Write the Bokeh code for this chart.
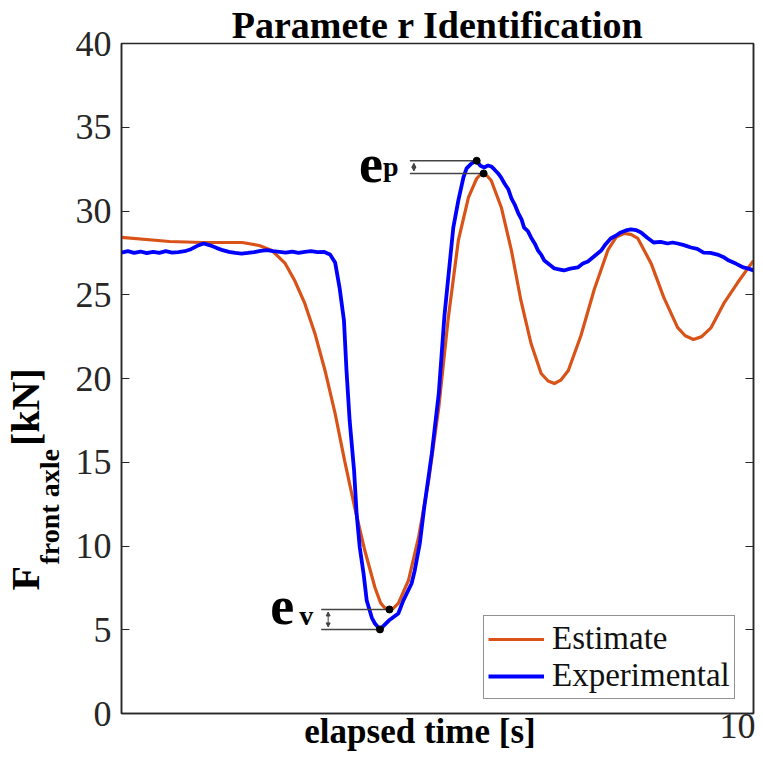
import numpy as np
from bokeh.plotting import figure
from bokeh.models import (Range1d, FixedTicker, LinearAxis, Legend, Label,
                          Arrow, NormalHead, Title)
from bokeh.embed import file_html
from bokeh.resources import INLINE

# ---- data -------------------------------------------------------------
est_t = [0.00, 0.76, 1.28, 1.91, 2.18, 2.38, 2.59, 2.74, 2.90, 3.06, 3.22,
         3.38, 3.53, 3.69, 3.85, 4.01, 4.10, 4.16, 4.24, 4.30, 4.38, 4.54,
         4.70, 4.86, 5.02, 5.17, 5.33, 5.49, 5.62, 5.68, 5.73, 5.78, 5.85,
         6.01, 6.17, 6.32, 6.48, 6.64, 6.75, 6.85, 6.95, 7.07, 7.27, 7.48,
         7.70, 7.83, 7.95, 8.06, 8.17, 8.38, 8.58, 8.80, 8.92, 9.05, 9.18,
         9.33, 9.53, 9.75, 10.00]
est_f = [28.42, 28.18, 28.12, 28.12, 27.94, 27.64, 26.87, 25.85, 24.48,
         22.69, 20.48, 17.91, 15.10, 12.30, 9.73, 7.52, 6.60, 6.33, 6.21,
         6.27, 6.57, 7.94, 10.51, 13.91, 18.27, 23.60, 28.24, 30.81, 31.94,
         32.18, 32.24, 32.12, 31.82, 30.21, 27.64, 24.66, 22.09, 20.30,
         19.85, 19.70, 19.90, 20.48, 22.57, 25.31, 27.70, 28.45, 28.66,
         28.60, 28.36, 26.87, 24.84, 23.04, 22.55, 22.33, 22.50, 23.04,
         24.48, 25.73, 27.04]

exp_t = [0.0, 0.1, 0.2, 0.3, 0.4, 0.5, 0.6, 0.7, 0.8, 0.9, 1.0, 1.1, 1.2,
         1.3, 1.4, 1.5, 1.6, 1.7, 1.8, 1.9, 2.0, 2.1, 2.2, 2.3, 2.4, 2.5,
         2.6, 2.7, 2.8, 2.9, 3.0, 3.1, 3.2, 3.3, 3.38, 3.45, 3.52, 3.56,
         3.61, 3.68, 3.72, 3.77, 3.83, 3.88, 3.96, 4.01, 4.09, 4.23, 4.38,
         4.46, 4.59, 4.64, 4.72, 4.79, 4.91, 5.02, 5.11, 5.25, 5.33, 5.41,
         5.46, 5.54, 5.62, 5.68, 5.74, 5.80, 5.85, 5.90, 5.96, 6.01, 6.06,
         6.12, 6.17, 6.22, 6.28, 6.33, 6.37, 6.43, 6.48, 6.54, 6.59, 6.64,
         6.69, 6.77, 6.85, 6.92, 7.00, 7.10, 7.22, 7.30, 7.38, 7.48, 7.59,
         7.66, 7.74, 7.82, 7.90, 7.98, 8.06, 8.14, 8.22, 8.32, 8.42, 8.53,
         8.64, 8.72, 8.80, 8.90, 9.01, 9.11, 9.21, 9.32, 9.43, 9.52, 9.61,
         9.72, 9.84, 9.92, 10.00]
exp_f = [27.52, 27.60, 27.50, 27.58, 27.48, 27.56, 27.50, 27.60, 27.52,
         27.55, 27.60, 27.72, 27.92, 28.06, 27.95, 27.80, 27.66, 27.56,
         27.50, 27.46, 27.50, 27.55, 27.62, 27.66, 27.60, 27.56, 27.52,
         27.58, 27.50, 27.56, 27.60, 27.54, 27.56, 27.40, 26.93, 25.43,
         23.46, 20.48, 17.49, 14.51, 11.94, 9.91, 8.36, 6.75, 5.73, 5.37,
         5.02, 5.55, 5.97, 6.75, 7.76, 8.54, 10.15, 12.30, 15.52, 19.10,
         23.76, 29.01, 30.63, 32.00, 32.54, 32.84, 33.00, 32.70, 32.60,
         32.72, 32.66, 32.48, 32.24, 31.98, 31.64, 31.30, 30.75, 30.40,
         29.85, 29.50, 29.01, 28.80, 28.42, 28.05, 27.64, 27.40, 27.04,
         26.80, 26.57, 26.52, 26.45, 26.56, 26.63, 26.86, 26.99, 27.30,
         27.64, 28.02, 28.36, 28.52, 28.72, 28.84, 28.90, 28.86, 28.72,
         28.40, 28.12, 28.16, 28.06, 28.12, 28.06, 27.96, 27.82, 27.74,
         27.52, 27.50, 27.40, 27.26, 27.04, 26.86, 26.63, 26.56, 26.45]

y_ticks = [0, 5, 10, 15, 20, 25, 30, 35, 40]
x_ticks = [10]

# ---- geometry ----------------------------------------------------------
W, H = 763, 764
FL, FR, FT, FB = 119, 753, 43, 713          # frame edges in pixels
X0, X1, Y0, Y1 = 0.0, 10.0, 0.0, 40.0
kx = (X1 - X0) / (FR - FL)
ky = (Y1 - Y0) / (FB - FT)

SERIF = "Liberation Serif"
ORANGE = "#D95319"
BLUE = "#0000FF"
DARK = "#262626"
NB = "\u00a0"

p = figure(width=W, height=H, output_backend="svg", toolbar_location=None,
           x_range=Range1d(X0, X1), y_range=Range1d(Y0, Y1),
           min_border_left=FL, min_border_right=W - FR,
           min_border_top=FT, min_border_bottom=H - FB,
           background_fill_color="white", border_fill_color="white")
p.grid.visible = False
p.outline_line_color = DARK
p.outline_line_width = 1.5

# title
p.title.text = "Paramete r Identification"
p.title.align = "center"
p.title.text_font = SERIF
p.title.text_font_size = "38px"
p.title.text_font_style = "bold"
p.title.text_color = "black"
p.title.standoff = -4

# left axis with inward ticks; an undrawn label pads the panel
p.yaxis.ticker = FixedTicker(ticks=y_ticks)
p.yaxis.major_tick_in = 8
p.yaxis.major_tick_out = 0
p.yaxis.minor_tick_line_color = None
p.yaxis.major_label_text_font = SERIF
p.yaxis.major_label_text_font_size = "36px"
p.yaxis.major_label_text_color = DARK
p.yaxis.major_label_standoff = 10
p.yaxis.axis_line_color = DARK
p.yaxis.axis_line_width = 1.5
p.yaxis.major_tick_line_color = DARK
p.yaxis.major_tick_line_width = 1.2
p.yaxis.axis_label = NB
p.yaxis.axis_label_text_font_size = "2px"
p.yaxis.axis_label_text_color = None
p.yaxis.axis_label_standoff = 18

# bottom axis: one tick at the right end, label shares the row with the name
p.xaxis.ticker = FixedTicker(ticks=x_ticks)
p.xaxis.major_tick_in = 8
p.xaxis.major_tick_out = 0
p.xaxis.minor_tick_line_color = None
p.xaxis.major_label_text_font = SERIF
p.xaxis.major_label_text_font_size = "36px"
p.xaxis.major_label_text_color = DARK
p.xaxis.major_label_standoff = 0
p.xaxis.axis_line_color = DARK
p.xaxis.axis_line_width = 1.5
p.xaxis.major_tick_line_color = DARK
p.xaxis.axis_label = "elapsed time [s]" + NB * 4
p.xaxis.axis_label_text_font = SERIF
p.xaxis.axis_label_text_font_size = "35px"
p.xaxis.axis_label_text_font_style = "bold"
p.xaxis.axis_label_text_color = "black"
p.xaxis.axis_label_standoff = -29

# mirrored ticks on the right side (labels not drawn)
ra = LinearAxis(ticker=FixedTicker(ticks=y_ticks), major_tick_in=8,
                major_tick_out=0, minor_tick_line_color=None,
                major_label_text_font_size="1px", major_label_text_color=None,
                axis_line_color=DARK, axis_line_width=1.5,
                major_tick_line_color=DARK, major_label_standoff=0)
p.add_layout(ra, "right")

# y label F_{front axle}[kN]: subscript row next to the axis, main row outside
t_sub = Title(text="front axle", align="left", offset=149,
              text_font=SERIF, text_font_size="28px", text_font_style="bold",
              text_color="black", standoff=-31)
t_main = Title(text="F" + NB * 12 + "[kN]", align="left", offset=123,
               text_font=SERIF, text_font_size="40px", text_font_style="bold",
               text_color="black", standoff=0)
p.add_layout(t_sub, "left")
p.add_layout(t_main, "left")

# curves
r_est = p.line(est_t, est_f, line_color=ORANGE, line_width=3.2)
r_exp = p.line(exp_t, exp_f, line_color=BLUE, line_width=3.8)

# peak / valley error markers
ip_exp = int(np.argmax(exp_f))
ip_est = int(np.argmax(est_f))
iv_exp = int(np.argmin(exp_f))
iv_est = int(np.argmin(est_f))
pk_exp = (exp_t[ip_exp], exp_f[ip_exp])
pk_est = (est_t[ip_est], est_f[ip_est])
vl_exp = (exp_t[iv_exp], exp_f[iv_exp])
vl_est = (est_t[iv_est], est_f[iv_est])

GREY = "#444444"
gap = 2.5 * ky


def head():
    return NormalHead(size=4, line_color=GREY, fill_color=GREY)


# e_p
xs_p = pk_exp[0] - 67 * kx
p.segment(x0=[xs_p, xs_p], y0=[pk_exp[1], pk_est[1]],
          x1=[pk_exp[0], pk_est[0]], y1=[pk_exp[1], pk_est[1]],
          line_color=GREY, line_width=1.5)
xa_p = xs_p + 4 * kx
p.add_layout(Arrow(start=head(), end=head(),
                   x_start=xa_p, y_start=pk_est[1] + gap,
                   x_end=xa_p, y_end=pk_exp[1] - gap,
                   line_color=GREY, line_width=1))

# e_v
xs_v = vl_exp[0] - 59 * kx
p.segment(x0=[xs_v, xs_v], y0=[vl_est[1], vl_exp[1]],
          x1=[vl_est[0], vl_exp[0]], y1=[vl_est[1], vl_exp[1]],
          line_color=GREY, line_width=1.5)
xa_v = xs_v + 7 * kx
p.add_layout(Arrow(start=head(), end=head(),
                   x_start=xa_v, y_start=vl_exp[1] + gap,
                   x_end=xa_v, y_end=vl_est[1] - gap,
                   line_color=GREY, line_width=1))

p.scatter([pk_exp[0], pk_est[0], vl_exp[0], vl_est[0]],
          [pk_exp[1], pk_est[1], vl_exp[1], vl_est[1]],
          size=7, color="black")


def txt(x, y, s, size, xo=0, yo=0):
    p.add_layout(Label(x=x, y=y, text=s, x_offset=xo, y_offset=yo,
                       text_font=SERIF, text_font_size=f"{size}px",
                       text_font_style="bold", text_align="left",
                       text_baseline="alphabetic", text_color="black"))


txt(xs_p, pk_est[1], "e", 54, xo=-51, yo=9)
txt(xs_p, pk_est[1], "p", 28, xo=-27, yo=7)
txt(xs_v, vl_exp[1], "e", 54, xo=-51, yo=23)
txt(xs_v, vl_exp[1], "v", 28, xo=-22, yo=14)

legend = Legend(items=[("Estimate", [r_est]), ("Experimental", [r_exp])],
                location=(362, 14), label_text_font=SERIF,
                label_text_font_size="33px", label_text_color="#111111",
                glyph_width=56, glyph_height=20,
                label_standoff=8, padding=4, spacing=-4, margin=0,
                border_line_color=DARK, border_line_width=1.2,
                background_fill_color="white", background_fill_alpha=1.0)
p.add_layout(legend)

open("out.html", "w").write(file_html(p, INLINE))
